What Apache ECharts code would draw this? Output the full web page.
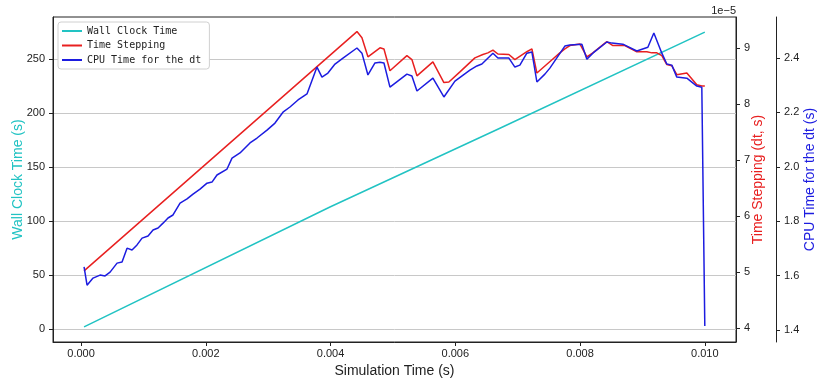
<!DOCTYPE html>
<html>
<head>
<meta charset="utf-8">
<script src="https://cdn.jsdelivr.net/npm/echarts@6/dist/echarts.min.js"></script>
<style>
  html, body { margin: 0; padding: 0; background: #fff; }
  #chart { width: 822px; height: 382px; }
</style>
</head>
<body>
<div id="chart"></div>
<script>
// wall clock time (s) vs simulation time (s)
var wallClock = [
  [0.000048, 2], [0.00399, 113], [0.006715, 186], [0.0100, 275]
];

// time step dt, in units of 1e-5 s
var timeStepE5 = [
  [0.000048, 5.02], [0.004423, 9.29], [0.004503, 9.18], [0.004599, 8.84],
  [0.004792, 9.00], [0.004856, 8.98], [0.004952, 8.59], [0.005224, 8.86],
  [0.005304, 8.79], [0.005385, 8.50], [0.005641, 8.75], [0.005817, 8.38],
  [0.005897, 8.39], [0.006074, 8.57], [0.006314, 8.82], [0.006442, 8.88],
  [0.006522, 8.91], [0.006603, 8.96], [0.006683, 8.89], [0.006859, 8.88],
  [0.006955, 8.79], [0.007147, 8.93], [0.007228, 8.98], [0.007308, 8.55],
  [0.007564, 8.80], [0.007676, 8.91], [0.007756, 8.98], [0.007837, 9.04],
  [0.007997, 9.07], [0.008109, 8.84], [0.008205, 8.91], [0.008429, 9.11],
  [0.008526, 9.04], [0.008718, 9.04], [0.008910, 8.93], [0.009071, 8.93],
  [0.009151, 8.91], [0.009231, 8.91], [0.009311, 8.86], [0.009391, 8.70],
  [0.009471, 8.68], [0.009551, 8.52], [0.009712, 8.55], [0.009872, 8.34],
  [0.009952, 8.32], [0.0100, 8.32]
];

// cpu time spent per dt (s)
var cpuTime = [
  [0.000048, 1.632], [0.000096, 1.565], [0.000192, 1.591], [0.000304, 1.602],
  [0.000385, 1.599], [0.000465, 1.613], [0.000577, 1.646], [0.000657, 1.650],
  [0.000737, 1.701], [0.000817, 1.694], [0.000897, 1.713], [0.000978, 1.738],
  [0.001074, 1.746], [0.001154, 1.768], [0.001234, 1.775], [0.001314, 1.793],
  [0.001394, 1.812], [0.001474, 1.823], [0.001587, 1.867], [0.001699, 1.882],
  [0.001795, 1.900], [0.001907, 1.918], [0.002019, 1.940], [0.002099, 1.944],
  [0.002179, 1.970], [0.002340, 1.992], [0.002420, 2.032], [0.002548, 2.051],
  [0.002708, 2.088], [0.002821, 2.106], [0.002981, 2.135], [0.003109, 2.161],
  [0.003237, 2.201], [0.003349, 2.220], [0.003478, 2.246], [0.003622, 2.268],
  [0.003782, 2.367], [0.003862, 2.330], [0.003958, 2.345], [0.004071, 2.378],
  [0.004199, 2.400], [0.004423, 2.437], [0.004503, 2.418], [0.004599, 2.338],
  [0.004712, 2.382], [0.004792, 2.385], [0.004856, 2.382], [0.004952, 2.293],
  [0.005224, 2.341], [0.005304, 2.334], [0.005385, 2.279], [0.005641, 2.326],
  [0.005817, 2.257], [0.005994, 2.315], [0.006234, 2.356], [0.006346, 2.371],
  [0.006426, 2.378], [0.006603, 2.418], [0.006683, 2.400], [0.006859, 2.400],
  [0.006955, 2.367], [0.007035, 2.374], [0.007147, 2.418], [0.007228, 2.422],
  [0.007308, 2.312], [0.007436, 2.341], [0.007516, 2.363], [0.007756, 2.444],
  [0.007837, 2.448], [0.008029, 2.451], [0.008109, 2.396], [0.008205, 2.418],
  [0.008429, 2.459], [0.008510, 2.455], [0.008686, 2.451], [0.008910, 2.426],
  [0.009087, 2.440], [0.009183, 2.492], [0.009311, 2.418], [0.009391, 2.378],
  [0.009471, 2.374], [0.009551, 2.330], [0.009712, 2.326], [0.009872, 2.297],
  [0.009952, 2.293], [0.0100, 1.415]
];

var xTicks = [0, 0.002, 0.004, 0.006, 0.008, 0.010];
var wallTicks = [0, 50, 100, 150, 200, 250];
var dtTicks = [4, 5, 6, 7, 8, 9];
var cpuTicks = [1.4, 1.6, 1.8, 2.0, 2.2, 2.4];

var TEAL = "#22c3c3";
var RED = "#e82020";
var BLUE = "#1c1ce0";
var INK = "#222";
var FONT = "Liberation Sans, Arial, sans-serif";

var chart = echarts.init(document.getElementById("chart"));

function yAxisBase(ticks, digits) {
  return {
    type: "value",
    axisLine: { show: true, onZero: false, lineStyle: { color: INK, width: 1 } },
    axisTick: { show: true, length: 4, inside: false, customValues: ticks, lineStyle: { color: INK } },
    axisLabel: {
      customValues: ticks,
      margin: 8,
      color: INK,
      fontFamily: FONT,
      fontSize: 11,
      formatter: function (v) { return digits == null ? String(v) : v.toFixed(digits); }
    },
    splitLine: { show: false },
    nameLocation: "middle",
    nameRotate: 90,
    nameMoveOverlap: false,
    nameTextStyle: { fontFamily: FONT, fontSize: 14 }
  };
}

var yWall = yAxisBase(wallTicks, null);
yWall.position = "left";
yWall.min = -12;
yWall.max = 289;
yWall.name = "Wall Clock Time (s)";
yWall.nameGap = 28;
yWall.nameTextStyle.color = TEAL;
yWall.splitLine = { show: true, lineStyle: { color: "#c8c8c8", width: 1 } };

var yDt = yAxisBase(dtTicks, null);
yDt.position = "right";
yDt.min = 3.75;
yDt.max = 9.55;
yDt.name = "Time Stepping (dt, s)";
yDt.nameGap = 15;
yDt.nameTextStyle.color = RED;

var yCpu = yAxisBase(cpuTicks, 1);
yCpu.position = "right";
yCpu.offset = 40;
yCpu.min = 1.356;
yCpu.max = 2.551;
yCpu.name = "CPU Time for the dt (s)";
yCpu.nameGap = 27;
yCpu.nameTextStyle.color = BLUE;

chart.setOption({
  animation: false,
  backgroundColor: "#fff",
  grid: {
    left: 53, right: 86, top: 17, bottom: 40,
    outerBoundsMode: "none",
    containLabel: false,
    show: true, borderColor: INK, borderWidth: 1, backgroundColor: "transparent"
  },
  legend: {
    orient: "vertical",
    left: 58,
    top: 22,
    icon: "rect",
    itemWidth: 20,
    itemHeight: 2,
    itemGap: 4.5,
    padding: [4, 8, 4, 4],
    backgroundColor: "#fff",
    borderColor: "#d0d0d0",
    borderWidth: 1,
    borderRadius: 3,
    textStyle: { fontFamily: "DejaVu Sans Mono, monospace", fontSize: 10, color: INK },
    data: ["Wall Clock Time", "Time Stepping", "CPU Time for the dt"]
  },
  graphic: [
    {
      type: "text",
      right: 86,
      top: 5,
      style: { text: "1e\u22125", fontFamily: FONT, fontSize: 11, fill: INK }
    }
  ],
  xAxis: {
    type: "value",
    min: -0.00045,
    max: 0.0105,
    name: "Simulation Time (s)",
    nameLocation: "middle",
    nameGap: 22,
    nameMoveOverlap: false,
    nameTextStyle: { fontFamily: FONT, fontSize: 14, color: INK },
    axisLine: { show: true, onZero: false, lineStyle: { color: INK, width: 1 } },
    axisTick: { show: true, length: 4, customValues: xTicks, lineStyle: { color: INK } },
    axisLabel: {
      customValues: xTicks,
      margin: 6,
      color: INK,
      fontFamily: FONT,
      fontSize: 11,
      formatter: function (v) { return v.toFixed(3); }
    },
    splitLine: { show: false }
  },
  yAxis: [yWall, yDt, yCpu],
  series: [
    {
      name: "Wall Clock Time",
      type: "line",
      yAxisIndex: 0,
      data: wallClock,
      symbol: "none",
      lineStyle: { color: TEAL, width: 1.5 },
      itemStyle: { color: TEAL }
    },
    {
      name: "Time Stepping",
      type: "line",
      yAxisIndex: 1,
      data: timeStepE5,
      symbol: "none",
      lineStyle: { color: RED, width: 1.5 },
      itemStyle: { color: RED }
    },
    {
      name: "CPU Time for the dt",
      type: "line",
      yAxisIndex: 2,
      data: cpuTime,
      symbol: "none",
      lineStyle: { color: BLUE, width: 1.5 },
      itemStyle: { color: BLUE }
    }
  ]
});
</script>
</body>
</html>
